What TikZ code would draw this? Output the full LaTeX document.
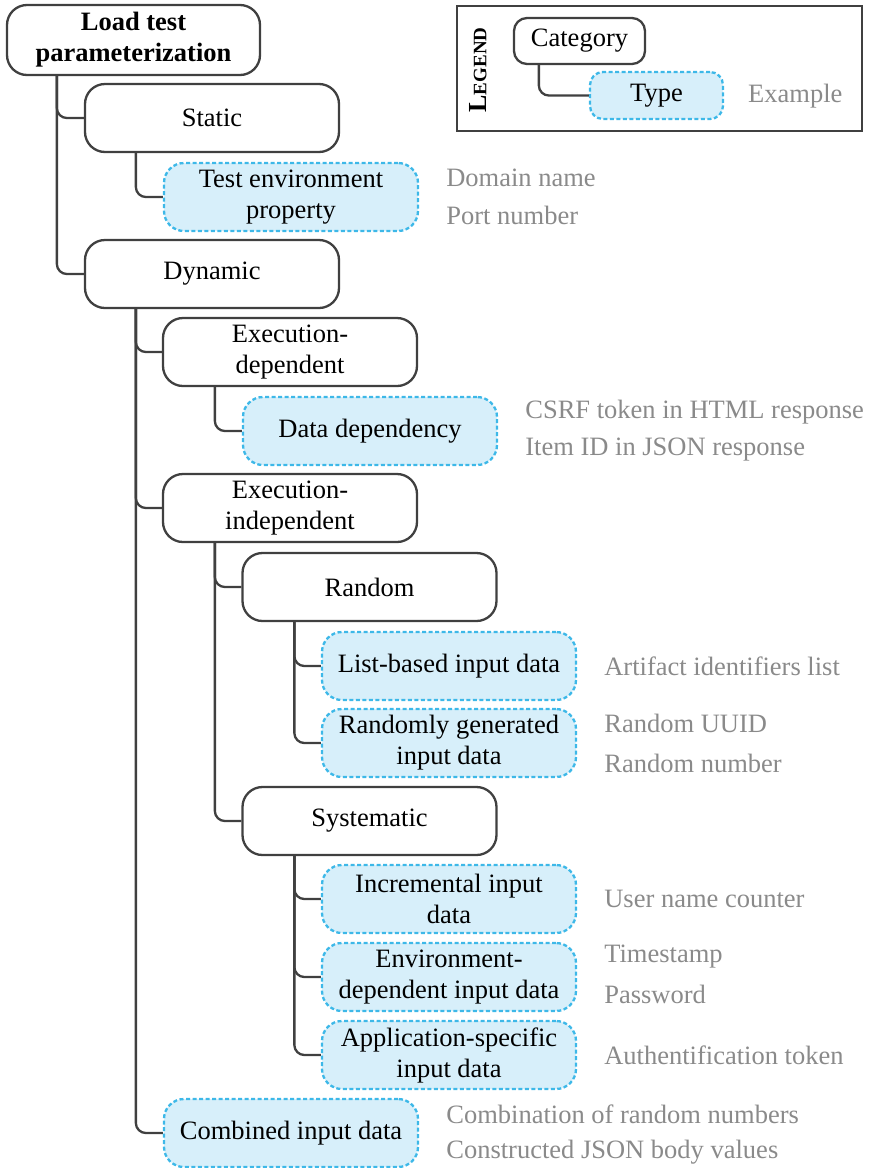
\documentclass[tikz,border=0pt]{standalone}
\usepackage{fontspec}
\IfFontExistsTF{LiberationSerif-Regular.ttf}{%
  \setmainfont{LiberationSerif}[Extension=.ttf, UprightFont=*-Regular, BoldFont=*-Bold, ItalicFont=*-Italic, BoldItalicFont=*-BoldItalic]}{%
  \setmainfont{Liberation Serif}}
\definecolor{lineg}{HTML}{404040}
\definecolor{typefill}{HTML}{D7EFFA}
\definecolor{typeline}{HTML}{3DB8E8}
\definecolor{exgray}{HTML}{8A8A8A}
\begin{document}
\begin{tikzpicture}[x=1pt,y=-1pt,
  every node/.style={font=\fontsize{26.5}{31}\selectfont, inner sep=0pt},
  cat/.style={draw=lineg, line width=2.3pt, fill=white, rounded corners=20pt,
    minimum width=254pt, minimum height=68pt, align=center},
  typ/.style={draw=typeline, line width=2.3pt, dash pattern=on 4pt off 2.5pt, fill=typefill,
    rounded corners=20pt, minimum width=254pt, minimum height=68pt, align=center},
  ex/.style={text=exgray, anchor=west},
  conn/.style={draw=lineg, line width=2.3pt, rounded corners=10pt}]
\useasboundingbox (0,0) rectangle (875,1168);

% legend
\draw[lineg, line width=1.5pt] (457,6) rectangle (862,131);
\node[rotate=90, font=\bfseries] (legtitle) at (478,70) {{\fontsize{26}{30}\selectfont L}{\fontsize{19}{20}\selectfont EGEND}};
\node[cat, minimum width=131pt, minimum height=46pt, rounded corners=13pt] (legcat) at (579.5,41) {Category};
\node[typ, minimum width=133pt, minimum height=47pt, rounded corners=13pt] (legtype) at (656.5,95.5) {Type};
\node[ex] (legex) at (748,96) {Example};
\draw[conn] ([xshift=26pt]legcat.south west) |- (legtype.west);

% tree nodes
\node[cat, minimum width=253pt, minimum height=70pt, font=\fontsize{26.5}{31}\selectfont\bfseries] (root) at (133.5,40) {Load test\\parameterization};
\node[cat] (static) at (212,118) {Static};
\node[typ] (tep) at (291,197) {Test environment\\property};
\node[cat] (dynamic) at (212,274) {Dynamic};
\node[cat] (execdep) at (290,352) {Execution-\\dependent};
\node[typ] (datadep) at (370,431) {Data dependency};
\node[cat] (execind) at (290,508) {Execution-\\independent};
\node[cat] (random) at (369.5,587) {Random};
\node[typ] (list) at (449,666) {List-based input data};
\node[typ] (rgen) at (449,743) {Randomly generated\\input data};
\node[cat] (syst) at (369.5,821) {Systematic};
\node[typ] (incr) at (449,899) {Incremental input\\data};
\node[typ] (envdep) at (449,977) {Environment-\\dependent input data};
\node[typ] (appspec) at (449,1055) {Application-specific\\input data};
\node[typ] (combined) at (291,1133) {Combined input data};

% connectors
\draw[conn] ([xshift=51pt]root.south west) |- (static.west);
\draw[conn] ([xshift=51pt]root.south west) |- (dynamic.west);
\draw[conn] ([xshift=52pt]static.south west) |- (tep.west);
\draw[conn] ([xshift=52pt]dynamic.south west) |- (execdep.west);
\draw[conn] ([xshift=52pt]dynamic.south west) |- (execind.west);
\draw[conn] ([xshift=52pt]dynamic.south west) |- (combined.west);
\draw[conn] ([xshift=53pt]execdep.south west) |- (datadep.west);
\draw[conn] ([xshift=53pt]execind.south west) |- (random.west);
\draw[conn] ([xshift=53pt]execind.south west) |- (syst.west);
\draw[conn] ([xshift=53pt]random.south west) |- (list.west);
\draw[conn] ([xshift=53pt]random.south west) |- (rgen.west);
\draw[conn] ([xshift=53pt]syst.south west) |- (incr.west);
\draw[conn] ([xshift=53pt]syst.south west) |- (envdep.west);
\draw[conn] ([xshift=53pt]syst.south west) |- (appspec.west);

% examples
\node[ex] (e1) at ([xshift=27pt,yshift=19pt]tep.east) {Domain name};
\node[ex] (e2) at ([xshift=27pt,yshift=-18pt]tep.east) {Port number};
\node[ex] (e3) at ([xshift=27pt,yshift=19pt]datadep.east) {CSRF token in HTML response};
\node[ex] (e4) at ([xshift=27pt,yshift=-19pt]datadep.east) {Item ID in JSON response};
\node[ex] (e5) at ([xshift=27pt]list.east) {Artifact identifiers list};
\node[ex] (e6) at ([xshift=27pt,yshift=20pt]rgen.east) {Random UUID};
\node[ex] (e7) at ([xshift=27pt,yshift=-20pt]rgen.east) {Random number};
\node[ex] (e8) at ([xshift=27pt]incr.east) {User name counter};
\node[ex] (e9) at ([xshift=27pt,yshift=20pt]envdep.east) {Timestamp};
\node[ex] (e10) at ([xshift=27pt,yshift=-17pt]envdep.east) {Password};
\node[ex] (e11) at ([xshift=27pt]appspec.east) {Authentification token};
\node[ex] (e12) at ([xshift=27pt,yshift=19pt]combined.east) {Combination of random numbers};
\node[ex] (e13) at ([xshift=27pt,yshift=-19pt]combined.east) {Constructed JSON body values};
\end{tikzpicture}
\end{document}
